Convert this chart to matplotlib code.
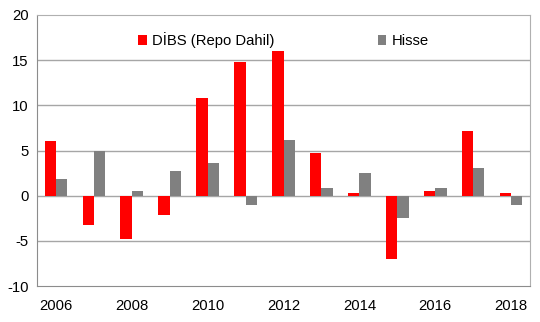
import numpy as np
import matplotlib
matplotlib.use("Agg")
import matplotlib.pyplot as plt

plt.rcParams['font.family'] = ['Liberation Sans', 'DejaVu Sans']

years = [2006, 2007, 2008, 2009, 2010, 2011, 2012, 2013, 2014, 2015, 2016, 2017, 2018]
dibs = [6.0, -3.3, -4.8, -2.1, 10.8, 14.8, 16.0, 4.7, 0.3, -7.0, 0.5, 7.2, 0.3]
hisse = [1.9, 5.0, 0.5, 2.7, 3.6, -1.0, 6.2, 0.8, 2.5, -2.5, 0.8, 3.1, -1.0]
tick_years = [2006, 2008, 2010, 2012, 2014, 2016, 2018]
y_ticks = [-10, -5, 0, 5, 10, 15, 20]

fig = plt.figure(figsize=(5.4, 3.22), dpi=100)
ax = fig.add_axes([37/540, 1 - 286/322, 493/540, 271/322])

x = np.arange(len(years))
w = 0.3
ax.bar(x - w/2, dibs, w, color='#ff0000', label='DİBS (Repo Dahil)', zorder=3)
ax.bar(x + w/2, hisse, w, color='#808080', label='Hisse', zorder=3)

ax.set_xlim(-0.5, len(years) - 0.5)
ax.set_ylim(-10, 20)
ax.set_yticks(y_ticks)
ax.set_yticklabels([str(v) for v in y_ticks])
ax.set_xticks([years.index(y) for y in tick_years])
ax.set_xticklabels([str(y) for y in tick_years])
ax.tick_params(length=0, labelsize=10.7, colors='#000000', pad=6)
ax.tick_params(axis='x', pad=9)

for v in y_ticks[1:-1]:
    ax.axhline(v, color='#a6a6a6', lw=1, zorder=1)
for side in ['left', 'bottom']:
    ax.spines[side].set_color('#8c8c8c')
for side in ['top', 'right']:
    ax.spines[side].set_color('#b0b0b0')

ax.legend(loc='upper center', bbox_to_anchor=(0.5, 0.985), ncol=2, frameon=False,
          fontsize=10.7, handlelength=0.55, handleheight=0.7, columnspacing=7,
          handletextpad=0.35)

fig.savefig('out.png', dpi=100)
